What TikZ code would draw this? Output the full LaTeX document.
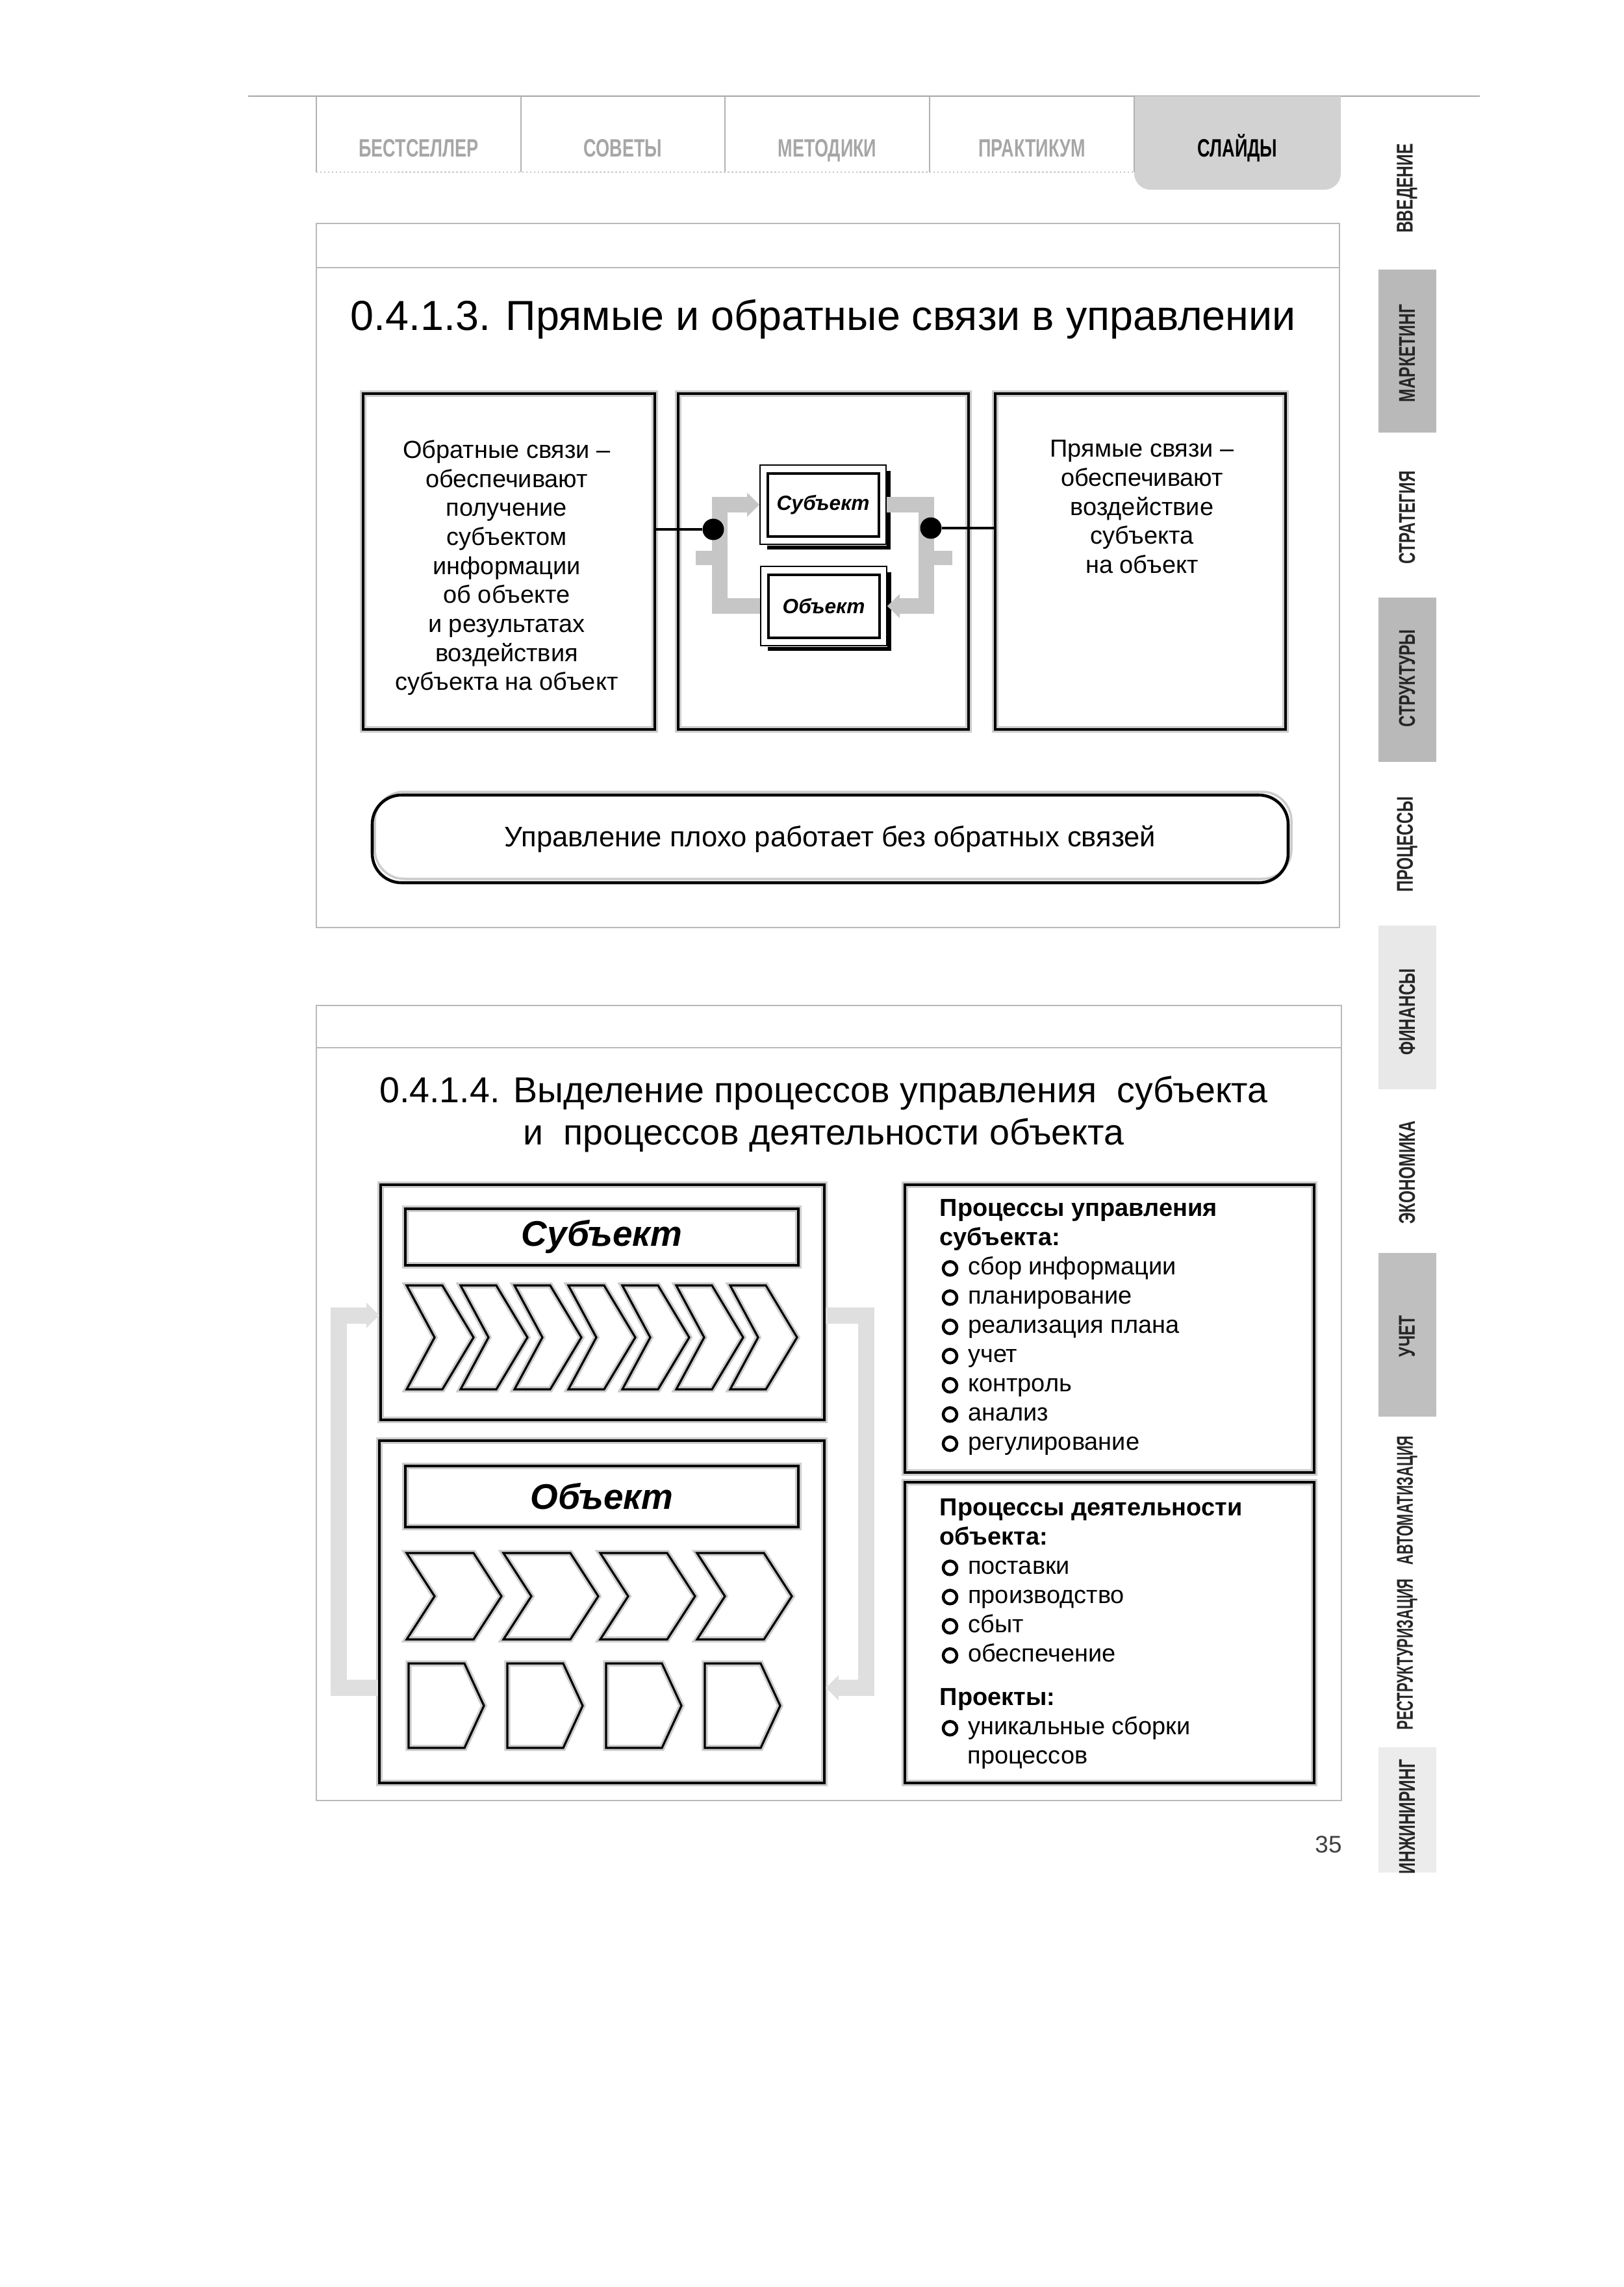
\documentclass[tikz,border=0pt]{standalone}
\usepackage{fontspec}
\setmainfont{Liberation Sans}
\newfontfamily\narrowfont[FakeStretch=0.70]{Liberation Sans}
\newfontfamily\narrowerfont[FakeStretch=0.62]{Liberation Sans}
\usetikzlibrary{arrows.meta}

\newcommand{\blt}{\hspace*{0.03cm}\tikz[baseline=-0.1cm]\draw[line width=1.3pt] (0,0) circle (0.105);\hspace{0.15cm}}

\begin{document}
\begin{tikzpicture}[
  font=\fontsize{10.8}{12.7}\selectfont,
  frameline/.style={gray!55, line width=0.6pt},
  panel/.style={draw, line width=1.2pt, inner sep=0pt, preaction={draw=gray!40, line width=2.6pt}},
  smallbox/.style={draw, line width=0.5pt, inner sep=0pt, minimum width=1.94cm, minimum height=1.22cm,
    font=\bfseries\itshape\fontsize{9}{10}\selectfont},
  bar/.style={draw, line width=1pt, inner sep=0pt, minimum width=6.05cm, preaction={draw=gray!40, line width=2.6pt},
    font=\bfseries\itshape\fontsize{15.6}{18}\selectfont},
  chev/.style={draw, line width=0.9pt, preaction={draw=gray!40, line width=2.6pt}},
  feedback/.style={gray!45, line width=0.24cm, -{Triangle[length=0.19cm,width=0.36cm]}},
  loopback/.style={gray!25, line width=0.25cm, -{Triangle[length=0.2cm,width=0.38cm]}},
  dot/.style={circle, fill, inner sep=0pt, minimum size=0.33cm},
  tablabel/.style={anchor=base, font=\narrowfont\bfseries\fontsize{11}{13}\selectfont, text=gray!70},
  sidelabel/.style={rotate=90, font=\narrowfont\bfseries\fontsize{10}{12}\selectfont, text=black!85},
]
\useasboundingbox (0,0) rectangle (25,-35.21);

% --- running head: tabs ---
\draw[gray!70, line width=0.8pt] (3.82,-1.48) -- (22.78,-1.48);
\begin{scope}
  \clip (17.3,-1.48) rectangle (20.8,-3.1);
  \fill[gray!35, rounded corners=0.25cm] (17.46,-1.0) rectangle (20.64,-2.92);
\end{scope}
\foreach \x in {4.87,8.02,11.16,14.31,17.46}
  \draw[gray!60, line width=0.5pt] (\x,-1.48) -- (\x,-2.65);
\draw[gray!45, densely dotted, line width=0.7pt] (4.87,-2.65) -- (17.46,-2.65);
\foreach \lbl/\x [count=\i] in {БЕСТСЕЛЛЕР/6.445, СОВЕТЫ/9.59, МЕТОДИКИ/12.735, ПРАКТИКУМ/15.885}
  \node[tablabel] (tab\i) at (\x,-2.41) {\lbl};
\node[tablabel, text=black] (tab5) at (19.05,-2.41) {СЛАЙДЫ};

% --- side index ---
\fill[gray!55] (21.22,-4.15) rectangle (22.11,-6.66);
\fill[gray!55] (21.22,-9.20) rectangle (22.11,-11.73);
\fill[gray!18] (21.22,-14.25) rectangle (22.11,-16.77);
\fill[gray!50] (21.22,-19.29) rectangle (22.11,-21.81);
\fill[gray!15] (21.22,-26.90) rectangle (22.11,-28.83);
\foreach \lbl/\y [count=\i] in {ВВЕДЕНИЕ/2.90, МАРКЕТИНГ/5.44, СТРАТЕГИЯ/7.97, СТРУКТУРЫ/10.44,
    ПРОЦЕССЫ/13.00, ФИНАНСЫ/15.58, ЭКОНОМИКА/18.05, УЧЕТ/20.57,
    {\narrowerfont АВТОМАТИЗАЦИЯ}/23.10, {\narrowerfont РЕСТРУКТУРИЗАЦИЯ}/25.47, ИНЖИНИРИНГ/27.97}
  \node[sidelabel] (side\i) at (21.66,-\y) {\lbl};

% --- 0.4.1.3: direct and feedback links ---
\draw[frameline] (4.87,-3.44) rectangle (20.62,-14.28);
\draw[frameline] (4.87,-4.12) -- (20.62,-4.12);
\node[anchor=base, font=\fontsize{18.4}{22}\selectfont] (title1) at (12.67,-5.08)
  {0.4.1.3. Прямые и обратные связи в управлении};

\node[panel, minimum width=4.49cm, minimum height=5.17cm] (fb) at (7.835,-8.645) {};
\node[panel, minimum width=4.47cm, minimum height=5.17cm] (cyc) at (12.675,-8.645) {};
\node[panel, minimum width=4.47cm, minimum height=5.17cm] (ff) at (17.555,-8.645) {};
\node[anchor=north, align=center, inner sep=0pt] (fbtext) at (7.80,-6.77) {Обратные связи –\\обеспечивают\\получение\\субъектом\\информации\\об объекте\\и~результатах\\воздействия\\субъекта на объект};
\node[anchor=north, align=center, inner sep=0pt] (fftext) at (17.58,-6.77) {Прямые связи –\\обеспечивают\\воздействие\\субъекта\\на объект};

% subject / object loop
\node[smallbox] (subj) at (12.67,-7.77) {Субъект};
\node[smallbox] (obj) at (12.68,-9.33) {Объект};
\foreach \b in {subj,obj} {
  \draw[line width=1.3pt] ([shift={(0.13,-0.14)}]\b.north west) rectangle ([shift={(-0.12,0.13)}]\b.south east);
  \draw[line width=1.6pt] ([shift={(0.12,-0.04)}]\b.south west) -| ([shift={(0.03,-0.1)}]\b.north east);
}
\draw[feedback] (obj.west) -- ++(-0.62,0) |- (subj.west);
\draw[feedback] (subj.east) -- ++(0.61,0) |- (obj.east);
\coordinate (inL) at (10.71,-8.59);
\coordinate (inR) at (14.66,-8.59);
\draw[gray!45, line width=0.22cm] (inL) -- ++(0.4,0);
\draw[gray!45, line width=0.22cm] (inR) -- ++(-0.4,0);
\node[dot] (dotL) at (10.98,-8.15) {};
\node[dot] (dotR) at (14.33,-8.13) {};
\draw[line width=1.4pt] (fb.east |- dotL) -- (dotL);
\draw[line width=1.4pt] (dotR) -- (ff.west |- dotR);

\draw[gray!40, line width=1pt, rounded corners=0.45cm] (5.77,-12.19) rectangle (19.88,-13.53);
\node[draw, line width=1.3pt, rounded corners=0.45cm, minimum width=14.1cm, minimum height=1.35cm,
  font=\fontsize{12.4}{14}\selectfont] (note) at (12.78,-12.915) {Управление плохо работает без обратных связей};

% --- 0.4.1.4: management vs. activity processes ---
\draw[frameline] (4.87,-15.48) rectangle (20.65,-27.72);
\draw[frameline] (4.87,-16.13) -- (20.65,-16.13);
\node[anchor=north, align=center, inner sep=0pt, font=\fontsize{15.8}{18.5}\selectfont] (title2) at (12.68,-16.56)
  {0.4.1.4. Выделение процессов управления~~субъекта\\и~~процессов деятельности объекта};

\node[panel, minimum width=6.83cm, minimum height=3.62cm] (subjp) at (9.275,-20.05) {};
\node[panel, minimum width=6.85cm, minimum height=5.27cm] (objp) at (9.265,-24.815) {};
\node[bar, minimum height=0.87cm] (subjbar) at (9.265,-19.045) {Субъект};
\node[bar, minimum height=0.94cm] (objbar) at (9.265,-23.04) {Объект};

\foreach \k in {0,...,6}
  \draw[chev, shift={(6.26+0.83*\k,-19.79)}] (0,0) -- (0.55,0) -- (1.03,-0.8) -- (0.55,-1.6) -- (0,-1.6) -- (0.43,-0.8) -- cycle;
\foreach \k in {0,...,3}
  \draw[chev, shift={(6.26+1.49*\k,-23.91)}] (0,0) -- (1.03,0) -- (1.46,-0.665) -- (1.03,-1.33) -- (0,-1.33) -- (0.43,-0.665) -- cycle;
\foreach \k in {0,...,3}
  \draw[chev, shift={(6.29+1.52*\k,-25.61)}] (0,0) -- (0.86,0) -- (1.16,-0.65) -- (0.86,-1.3) -- (0,-1.3) -- cycle;

\draw[loopback] ([yshift=-1.17cm]objp.west) -- ++(-0.6,0) |- ([yshift=-0.2cm]subjp.west);
\draw[loopback] ([yshift=-0.2cm]subjp.east) -- ++(0.62,0) |- ([yshift=-1.17cm]objp.east);

\node[panel, minimum width=6.3cm, minimum height=4.43cm] (mgmt) at (17.08,-20.455) {};
\node[panel, minimum width=6.3cm, minimum height=4.63cm] (ops) at (17.08,-25.135) {};
\node[anchor=north west, align=left, inner sep=0pt, font=\fontsize{10.8}{12.8}\selectfont] (mgmtlist) at (14.46,-18.46)
  {\textbf{Процессы управления}\\\textbf{субъекта:}\\\blt сбор информации\\\blt планирование\\\blt реализация плана\\\blt учет\\\blt контроль\\\blt анализ\\\blt регулирование};
\node[anchor=north west, align=left, inner sep=0pt, font=\fontsize{10.8}{12.8}\selectfont] (opslist) at (14.46,-23.07)
  {\textbf{Процессы деятельности}\\\textbf{объекта:}\\\blt поставки\\\blt производство\\\blt сбыт\\\blt обеспечение\\[0.22cm]\textbf{Проекты:}\\\blt уникальные сборки\\\hspace*{0.43cm}процессов};

\node[font=\fontsize{10.5}{12}\selectfont, text=black!75] (pagenum) at (20.45,-28.40) {35};
\end{tikzpicture}
\end{document}
